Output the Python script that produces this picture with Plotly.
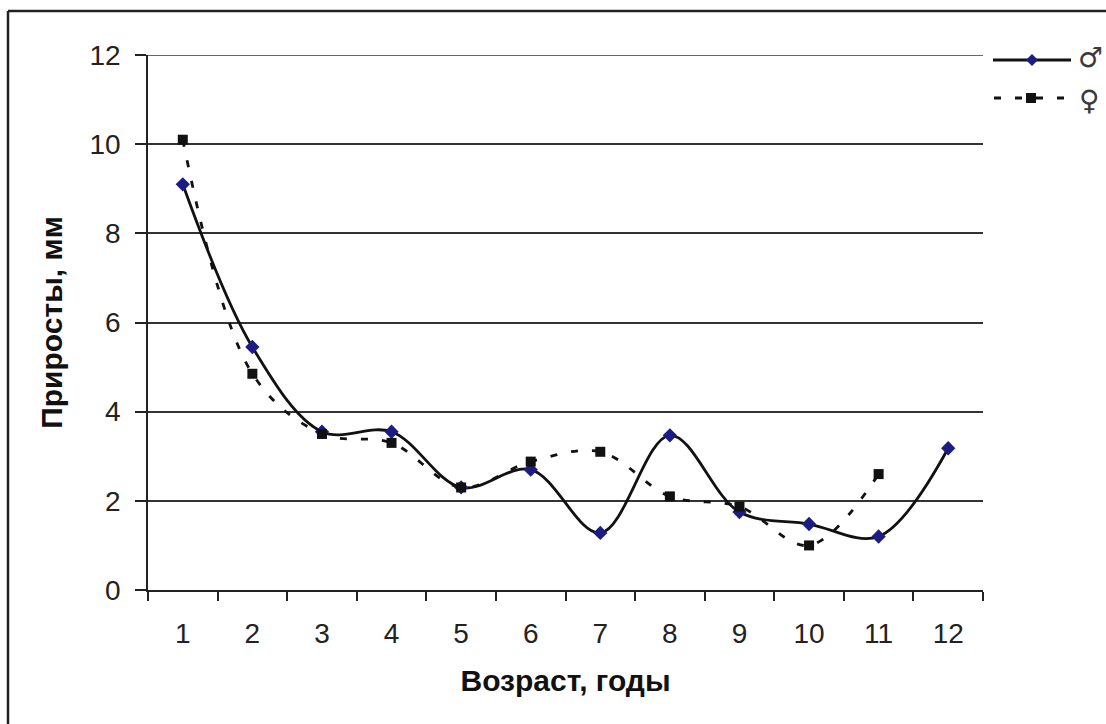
import plotly.graph_objects as go

# Age classes (years) and annual increments (mm) for males and females
ages = ["1", "2", "3", "4", "5", "6", "7", "8", "9", "10", "11", "12"]
male_growth = [9.1, 5.45, 3.55, 3.55, 2.3, 2.7, 1.28, 3.47, 1.75, 1.48, 1.2, 3.18]
female_growth = [10.1, 4.85, 3.5, 3.3, 2.3, 2.88, 3.1, 2.1, 1.87, 1.0, 2.6, None]

y_ticks = [0, 2, 4, 6, 8, 10, 12]

FONT = "Liberation Sans, Arial, sans-serif"
MALE_MARK = "#1c1c85"
INK = "#111111"

# plot area in pixels (for placing the hand-made legend and frame)
W, H = 1106, 724
L, R, T, B = 148, 123, 55, 134
pw, ph = W - L - R, H - T - B


def px_x(x):
    return (x - L) / pw


def px_y(y):
    return (H - B - y) / ph


fig = go.Figure()

fig.add_trace(go.Scatter(
    x=ages, y=male_growth, mode="lines+markers", name="♂",
    line=dict(color=INK, width=2.8, shape="spline", smoothing=1.0),
    marker=dict(symbol="diamond", size=11, color=MALE_MARK),
    showlegend=False,
))
fig.add_trace(go.Scatter(
    x=ages, y=female_growth, mode="lines+markers", name="♀",
    line=dict(color=INK, width=2.8, dash="7px,14px", shape="spline", smoothing=1.0),
    marker=dict(symbol="square", size=10, color=INK),
    connectgaps=False, showlegend=False,
))

shapes = []
# top gridline at the upper end of the value axis
shapes.append(dict(type="line", xref="paper", yref="y", layer="below",
                   x0=0, x1=1, y0=y_ticks[-1], y1=y_ticks[-1],
                   line=dict(color="#333333", width=1.5)))
# outer frame (left and top edges)
shapes.append(dict(type="line", xref="paper", yref="paper",
                   x0=px_x(8), x1=px_x(W + 5), y0=px_y(11), y1=px_y(11),
                   line=dict(color="#222222", width=2.5)))
shapes.append(dict(type="line", xref="paper", yref="paper",
                   x0=px_x(8), x1=px_x(8), y0=px_y(11), y1=px_y(H + 5),
                   line=dict(color="#222222", width=2.5)))

# legend: male sample line + diamond
shapes.append(dict(type="line", xref="paper", yref="paper",
                   x0=px_x(993), x1=px_x(1071), y0=px_y(60), y1=px_y(60),
                   line=dict(color=INK, width=2.8)))
shapes.append(dict(type="path", xref="paper", yref="paper",
                   xsizemode="pixel", ysizemode="pixel",
                   xanchor=px_x(1032), yanchor=px_y(60),
                   path="M0,6 L6,0 L0,-6 L-6,0 Z",
                   fillcolor=MALE_MARK, line=dict(width=0)))
# legend: female sample dashed line + square
shapes.append(dict(type="line", xref="paper", yref="paper",
                   x0=px_x(994), x1=px_x(1071), y0=px_y(98), y1=px_y(98),
                   line=dict(color=INK, width=2.8, dash="7px,14px")))
shapes.append(dict(type="rect", xref="paper", yref="paper",
                   xsizemode="pixel", ysizemode="pixel",
                   xanchor=px_x(1031), yanchor=px_y(98),
                   x0=-5, x1=5, y0=-5, y1=5,
                   fillcolor=INK, line=dict(width=0)))

annotations = [
    dict(text="♂", xref="paper", yref="paper", x=px_x(1090), y=px_y(58),
         xanchor="center", yanchor="middle", showarrow=False,
         font=dict(family="DejaVu Sans", size=28, color="#3a3a3a")),
    dict(text="♀", xref="paper", yref="paper", x=px_x(1089), y=px_y(100),
         xanchor="center", yanchor="middle", showarrow=False,
         font=dict(family="DejaVu Sans", size=28, color="#3a3a3a")),
]

fig.update_layout(
    width=W, height=H,
    margin=dict(l=L, r=R, t=T, b=B),
    paper_bgcolor="white", plot_bgcolor="white",
    font=dict(family=FONT, size=28, color="#222222"),
    shapes=shapes,
    annotations=annotations,
    xaxis=dict(
        type="category", categoryorder="array", categoryarray=ages,
        range=[-0.5, 11.5],
        tickson="boundaries", ticks="outside", ticklen=9, tickwidth=1.5,
        tickcolor="#222222",
        showline=True, linecolor="#222222", linewidth=1.5,
        showgrid=False, zeroline=False,
        ticklabelstandoff=18,
        tickfont=dict(size=28, color="#222222"),
        title=dict(text="<b>Возраст, годы</b>", font=dict(size=30, color=INK), standoff=22),
    ),
    yaxis=dict(
        range=[0, 12], tickvals=y_ticks,
        ticks="outside", ticklen=11, tickwidth=1.5, tickcolor="#222222",
        showline=True, linecolor="#222222", linewidth=1.5,
        showgrid=True, gridcolor="#333333", gridwidth=1.5,
        zeroline=False,
        ticklabelstandoff=9,
        tickfont=dict(size=28, color="#222222"),
        title=dict(text="<b>Приросты, мм</b>", font=dict(size=30, color=INK), standoff=18),
    ),
)

fig.write_html("out.html")
